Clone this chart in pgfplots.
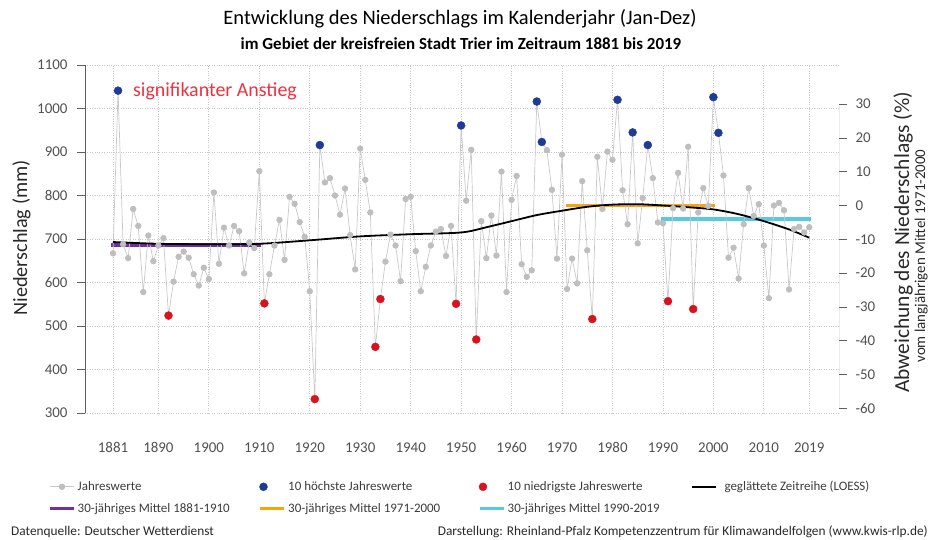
\documentclass[border=0pt]{standalone}
\usepackage{pgfplots}
\pgfplotsset{compat=1.18}
\usepackage{pgfplotstable}
\usepackage{fontspec}
\setmainfont{Carlito}

\definecolor{axisgray}{RGB}{95,95,95}
\definecolor{ticktext}{RGB}{80,80,80}
\definecolor{gridgray}{RGB}{200,200,200}
\definecolor{ptgray}{RGB}{190,190,190}
\definecolor{linegray}{RGB}{200,200,200}
\definecolor{hiblue}{RGB}{30,60,150}
\definecolor{lored}{RGB}{215,20,30}
\definecolor{mpurple}{RGB}{112,48,160}
\definecolor{morange}{RGB}{245,165,10}
\definecolor{mcyan}{RGB}{90,200,222}
\definecolor{annred}{RGB}{235,50,65}
\definecolor{labtext}{RGB}{40,40,40}
\definecolor{legtext}{RGB}{60,60,60}

\pgfplotsset{dotlegend/.style={legend image code/.code={\path[draw=none, fill=none] (0bp,0bp) -- (24bp,0bp); \draw[##1] plot coordinates {(3bp,0bp)};}}}

\pgfplotstableread{
year value
1881 667
1882 1041
1883 688
1884 656
1885 769
1886 730
1887 578
1888 708
1889 649
1890 685
1891 702
1892 524
1893 602
1894 659
1895 671
1896 657
1897 619
1898 593
1899 634
1900 608
1901 807
1902 643
1903 726
1904 685
1905 730
1906 718
1907 621
1908 692
1909 679
1910 856
1911 552
1912 619
1913 685
1914 744
1915 652
1916 797
1917 781
1918 739
1919 705
1920 580
1921 332
1922 916
1923 830
1924 840
1925 800
1926 756
1927 816
1928 709
1929 630
1930 908
1931 836
1932 761
1933 452
1934 562
1935 648
1936 710
1937 685
1938 603
1939 792
1940 797
1941 672
1942 580
1943 636
1944 685
1945 717
1946 723
1947 661
1948 730
1949 551
1950 961
1951 788
1952 905
1953 469
1954 741
1955 656
1956 754
1957 662
1958 855
1959 578
1960 790
1961 845
1962 642
1963 613
1964 628
1965 1016
1966 923
1967 904
1968 813
1969 655
1970 894
1971 585
1972 655
1973 598
1974 833
1975 674
1976 516
1977 889
1978 769
1979 901
1980 882
1981 1020
1982 812
1983 734
1984 945
1985 690
1986 794
1987 916
1988 840
1989 738
1990 736
1991 557
1992 771
1993 852
1994 770
1995 912
1996 539
1997 761
1998 817
1999 776
2000 1026
2001 944
2002 846
2003 657
2004 680
2005 609
2006 734
2007 817
2008 753
2009 780
2010 685
2011 564
2012 777
2013 783
2014 766
2015 584
2016 723
2017 728
2018 715
2019 727
}\annual

\pgfplotstableread{
year value
1882 1041
1922 916
1950 961
1965 1016
1966 923
1981 1020
1984 945
1987 916
2000 1026
2001 944
}\highest

\pgfplotstableread{
year value
1892 524
1911 552
1921 332
1933 452
1934 562
1949 551
1953 469
1976 516
1991 557
1996 539
}\lowest

\pgfplotstableread{
year value
1881 693
1890 689
1900 688
1910 689
1920 697
1930 706
1940 711
1950 715
1955 727
1960 741
1965 755
1970 765
1975 774
1980 779
1985 780
1990 777
1995 773
2000 768
2005 757
2010 741
2015 722
2019 703
}\loess

\begin{document}
\begin{tikzpicture}
\useasboundingbox (0bp,0bp) rectangle (930bp,540bp);
\begin{axis}[
  at={(85bp,127bp)}, anchor=south west,
  width=754bp, height=348bp, scale only axis,
  xmin=1875.45, xmax=2024.9,
  ymin=300, ymax=1100,
  axis lines*=left,
  axis line style={-},
  x axis line style={draw=none},
  y axis line style={axisgray, line width=0.8bp},
  xtick={1881,1890,1900,1910,1920,1930,1940,1950,1960,1970,1980,1990,2000,2010,2019},
  xticklabels={1881,1890,1900,1910,1920,1930,1940,1950,1960,1970,1980,1990,2000,2010,2019},
  ytick={300,400,500,600,700,800,900,1000,1100},
  yticklabels={300,400,500,600,700,800,900,1000,1100},
  xtick style={draw=none},
  ytick style={axisgray, line width=0.8bp},
  tick align=outside,
  major tick length=8bp,
  ticklabel style={font=\fontsize{15}{17}\selectfont, text=ticktext},
  xticklabel style={yshift=-18bp},
  yticklabel style={xshift=-6bp},
  grid=major,
  major grid style={dotted, gridgray, line width=0.8bp},
  legend columns=4,
  legend cell align=left,
  legend style={draw=none, fill=none, inner sep=0pt, row sep=7bp,
    font=\fontsize{13}{15}\selectfont, text=legtext,
    at={(-0.049,-0.19)}, anchor=north west},
  legend image code/.code={\draw[mark repeat=2,mark phase=2,#1] plot coordinates {(0bp,0bp) (12bp,0bp) (24bp,0bp)};},
]
% 30-year means
\addplot[mpurple, line width=3.5bp, forget plot] coordinates {(1880.6,686.6) (1910.3,686.6)};
\addplot[morange, line width=3.5bp, forget plot] coordinates {(1970.7,776.9) (2000.3,776.9)};
\addplot[mcyan, line width=3.5bp, forget plot] coordinates {(1989.7,746.3) (2019.3,746.3)};
% annual values
\addplot[linegray, line width=0.7bp, mark=*, mark size=2.8bp, mark options={ptgray, draw=ptgray, fill=ptgray}, forget plot] table[x=year, y=value] {\annual};
% LOESS
\addplot[black, line width=1.8bp, smooth, forget plot] table[x=year, y=value] {\loess};
% extremes
\addplot[only marks, mark=*, mark size=4bp, hiblue, forget plot] table[x=year, y=value] {\highest};
\addplot[only marks, mark=*, mark size=4bp, lored, forget plot] table[x=year, y=value] {\lowest};

\addlegendimage{linegray, line width=0.7bp, mark=*, mark size=2.8bp, mark options={ptgray, draw=ptgray, fill=ptgray}}
\addlegendimage{only marks, mark=*, mark size=4bp, hiblue, dotlegend}
\addlegendimage{only marks, mark=*, mark size=4bp, lored, dotlegend}
\addlegendimage{black, line width=1.8bp}
\addlegendimage{mpurple, line width=3.5bp}
\addlegendimage{morange, line width=3.5bp}
\addlegendimage{mcyan, line width=3.5bp}
\legend{\makebox[179bp][l]{Jahreswerte},\makebox[188bp][l]{10 höchste Jahreswerte},\makebox[181bp][l]{10 niedrigste Jahreswerte},\hspace{6bp}geglättete Zeitreihe (LOESS),\makebox[179bp][l]{30-jähriges Mittel 1881-1910},\makebox[188bp][l]{30-jähriges Mittel 1971-2000},\makebox[181bp][l]{30-jähriges Mittel 1990-2019}}

% bottom axis (range frame)
\draw[axisgray, line width=0.8bp] ([yshift=-14.5bp]axis cs:1881,300) -- ([yshift=-14.5bp]axis cs:2019,300);
\pgfplotsinvokeforeach{1881,1890,1900,1910,1920,1930,1940,1950,1960,1970,1980,1990,2000,2010,2019}{
  \draw[axisgray, line width=0.8bp] ([yshift=-14.5bp]axis cs:#1,300) -- ([yshift=-22bp]axis cs:#1,300);
}
\end{axis}

\begin{axis}[
  at={(85bp,127bp)}, anchor=south west,
  width=754bp, height=348bp, scale only axis,
  xmin=1875.45, xmax=2024.9,
  ymin=-61.386, ymax=41.588,
  hide x axis,
  axis y line*=right,
  y axis line style={draw=none},
  ytick={-60,-50,-40,-30,-20,-10,0,10,20,30},
  yticklabels={-60,-50,-40,-30,-20,-10,0,10,20,30},
  ytick style={axisgray, line width=0.8bp},
  tick align=outside,
  major tick length=8bp,
  ticklabel style={font=\fontsize{15}{17}\selectfont, text=ticktext},
  yticklabel style={xshift=5bp},
]
\draw[axisgray, line width=0.8bp] (axis cs:2024.9,-60) -- (axis cs:2024.9,30);
\end{axis}

% titles
\node[anchor=base, font=\fontsize{20.6}{24}\selectfont, text=black] at (460bp,515bp) {Entwicklung des Niederschlags im Kalenderjahr (Jan-Dez)};
\node[anchor=base, font=\bfseries\fontsize{17}{20}\selectfont, text=black] at (461bp,490bp) {im Gebiet der kreisfreien Stadt Trier im Zeitraum 1881 bis 2019};
% annotation
\node[anchor=base west, inner sep=0pt, font=\fontsize{20}{24}\selectfont, text=annred] at (133bp,443bp) {signifikanter Anstieg};
% axis labels
\node[anchor=base, rotate=90, inner sep=0pt, font=\fontsize{20.3}{24}\selectfont, text=labtext] at (27bp,302bp) {Niederschlag (mm)};
\node[anchor=base, rotate=90, inner sep=0pt, font=\fontsize{21.5}{24}\selectfont, text=labtext] at (909bp,297.5bp) {Abweichung des Niederschlags (\%)};
\node[anchor=base, rotate=90, inner sep=0pt, font=\fontsize{15}{17}\selectfont, text=labtext] at (925bp,284bp) {vom langjährigen Mittel 1971-2000};
% footer
\node[anchor=base west, inner sep=0pt, font=\fontsize{13.4}{15}\selectfont, text=labtext] at (11bp,5bp) {Datenquelle: Deutscher Wetterdienst};
\node[anchor=base east, inner sep=0pt, font=\fontsize{13.4}{15}\selectfont, text=labtext] at (928bp,5bp) {Darstellung: Rheinland-Pfalz Kompetenzzentrum für Klimawandelfolgen (www.kwis-rlp.de)};
\end{tikzpicture}
\end{document}
